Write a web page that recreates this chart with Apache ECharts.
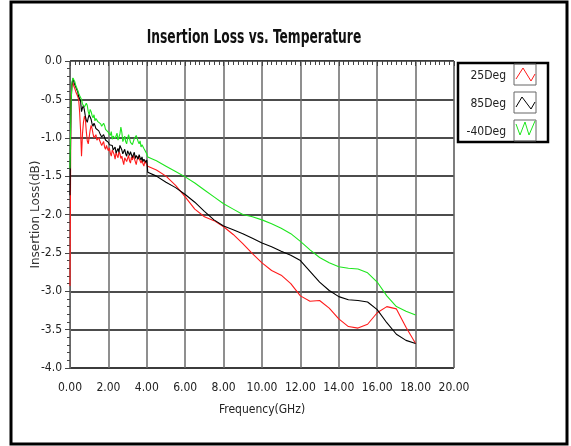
<!DOCTYPE html>
<html>
<head>
<meta charset="utf-8">
<script src="https://cdn.jsdelivr.net/npm/echarts@6/dist/echarts.min.js"></script>
<style>
html, body { margin: 0; padding: 0; background: #fff; }
#chart { width: 571px; height: 446px; }
</style>
</head>
<body>
<div id="chart"></div>
<script>
// frequency points (GHz): dense below 4 GHz where the traces are noisy
var freq = [0, 0.05, 0.1, 0.15, 0.2, 0.25, 0.3, 0.35, 0.4, 0.45, 0.5, 0.55, 0.6, 0.65, 0.7, 0.75, 0.8, 0.85, 0.9, 0.95,
    1.0, 1.05, 1.1, 1.15, 1.2, 1.25, 1.3, 1.35, 1.4, 1.45, 1.5, 1.55, 1.6, 1.65, 1.7, 1.75, 1.8, 1.85, 1.9, 1.95,
    2.0, 2.05, 2.1, 2.15, 2.2, 2.25, 2.3, 2.35, 2.4, 2.45, 2.5, 2.55, 2.6, 2.65, 2.7, 2.75, 2.8, 2.85, 2.9, 2.95,
    3.0, 3.05, 3.1, 3.15, 3.2, 3.25, 3.3, 3.35, 3.4, 3.45, 3.5, 3.55, 3.6, 3.65, 3.7, 3.75, 3.8, 3.85, 3.9, 3.95,
    4.0, 4.05,
    4.5, 5.0, 5.5, 6.0, 6.5, 7.0, 7.5, 8.0, 8.5, 9.0, 9.5, 10.0, 10.5, 11.0, 11.5, 12.0, 12.5, 13.0, 13.5,
    14.0, 14.5, 15.0, 15.5, 16.0, 16.5, 17.0, 17.5, 18.0];

// insertion loss (dB) per temperature
var loss25 = [-2.93, -0.50, -0.32, -0.28, -0.33, -0.36, -0.40, -0.43, -0.46, -0.50, -0.66, -0.90, -1.24, -0.95, -0.80, -0.72, -0.76, -0.92, -1.04, -1.08,
    -1.06, -0.90, -0.84, -0.88, -0.95, -1.00, -0.98, -0.96, -1.03, -1.05, -1.00, -1.04, -1.06, -1.10, -1.08, -1.05, -1.12, -1.15, -1.10, -1.14,
    -1.17, -1.13, -1.20, -1.24, -1.16, -1.19, -1.22, -1.28, -1.19, -1.23, -1.26, -1.18, -1.21, -1.27, -1.24, -1.30, -1.35, -1.26, -1.24, -1.31,
    -1.27, -1.23, -1.30, -1.33, -1.25, -1.29, -1.23, -1.27, -1.31, -1.35, -1.28, -1.24, -1.25, -1.30, -1.33, -1.29, -1.34, -1.37, -1.30, -1.33,
    -1.35, -1.37,
    -1.42, -1.50, -1.62, -1.77, -1.93, -2.03, -2.08, -2.16, -2.26, -2.38, -2.51, -2.63, -2.73, -2.79, -2.90, -3.06, -3.13, -3.12, -3.22,
    -3.36, -3.46, -3.48, -3.43, -3.28, -3.20, -3.23, -3.47, -3.68];

var loss85 = [-1.75, -0.60, -0.30, -0.23, -0.25, -0.31, -0.34, -0.36, -0.40, -0.46, -0.48, -0.52, -0.66, -0.61, -0.58, -0.64, -0.72, -0.77, -0.80, -0.74,
    -0.70, -0.73, -0.76, -0.82, -0.85, -0.81, -0.84, -0.88, -0.90, -0.87, -0.91, -0.94, -0.95, -0.99, -1.00, -0.96, -0.98, -1.03, -1.04, -1.02,
    -1.06, -1.09, -1.11, -1.07, -1.10, -1.16, -1.15, -1.12, -1.20, -1.17, -1.14, -1.19, -1.10, -1.13, -1.16, -1.21, -1.18, -1.15, -1.21, -1.24,
    -1.17, -1.20, -1.23, -1.18, -1.19, -1.26, -1.22, -1.19, -1.27, -1.23, -1.24, -1.28, -1.22, -1.26, -1.29, -1.25, -1.31, -1.28, -1.27, -1.32,
    -1.29, -1.45,
    -1.50, -1.58, -1.65, -1.74, -1.84, -1.96, -2.07, -2.15, -2.20, -2.25, -2.31, -2.37, -2.42, -2.48, -2.53, -2.60, -2.74, -2.88, -2.99,
    -3.07, -3.11, -3.12, -3.14, -3.24, -3.41, -3.56, -3.64, -3.68];

var lossM40 = [-1.40, -0.60, -0.28, -0.22, -0.24, -0.27, -0.32, -0.33, -0.38, -0.42, -0.45, -0.47, -0.50, -0.56, -0.54, -0.60, -0.62, -0.55, -0.58, -0.66,
    -0.70, -0.63, -0.66, -0.71, -0.74, -0.70, -0.78, -0.75, -0.74, -0.79, -0.80, -0.77, -0.82, -0.85, -0.86, -0.81, -0.84, -0.89, -0.90, -0.87,
    -0.93, -0.95, -0.97, -0.92, -1.02, -0.98, -0.96, -1.01, -1.00, -0.94, -1.03, -0.99, -0.95, -0.86, -0.93, -1.05, -1.02, -0.98, -1.05, -1.08,
    -1.01, -0.96, -0.97, -1.06, -1.04, -1.09, -1.07, -1.01, -1.00, -0.97, -0.98, -1.05, -1.08, -1.04, -1.12, -1.09, -1.10, -1.14, -1.16, -1.15,
    -1.21, -1.25,
    -1.30, -1.37, -1.44, -1.51, -1.59, -1.68, -1.77, -1.86, -1.93, -2.00, -2.03, -2.07, -2.12, -2.18, -2.25, -2.35, -2.46, -2.56, -2.63,
    -2.68, -2.70, -2.71, -2.76, -2.88, -3.06, -3.20, -3.26, -3.31];

var seriesNames = ['25Deg', '85Deg', '-40Deg'];
var seriesColors = ['#ff1a1a', '#000000', '#1ee61e'];
var seriesValues = [loss25, loss85, lossM40];

var narrow = "'Liberation Sans Narrow', 'DejaVu Sans Condensed', 'Noto Sans', sans-serif";

function pairs(values) {
    var out = [];
    for (var i = 0; i < freq.length; i++) {
        out.push([freq[i], values[i]]);
    }
    return out;
}

var series = [];
for (var s = 0; s < seriesNames.length; s++) {
    series.push({
        name: seriesNames[s],
        type: 'line',
        data: pairs(seriesValues[s]),
        showSymbol: false,
        symbol: 'none',
        lineStyle: { color: seriesColors[s], width: 1.1 },
        itemStyle: { color: seriesColors[s] },
        animation: false
    });
}

// legend swatch boxes (little zigzag drawn in each)
var swatchTop = [64, 92, 120];
var zigzags = [
    [[516, 79], [523, 68], [531, 81], [535, 74]],
    [[516, 107], [522, 97], [531, 109], [535, 102]],
    [[516, 124], [520, 135], [525, 122], [529, 135], [535, 121]]
];

var graphics = [
    { type: 'rect', shape: { x: 11, y: 2, width: 556, height: 442 },
      style: { fill: 'none', stroke: '#000', lineWidth: 3 }, silent: true },
    { type: 'rect', shape: { x: 458, y: 63, width: 90, height: 79 },
      style: { fill: 'none', stroke: '#000', lineWidth: 2.5 }, silent: true },
    { type: 'text', x: 254, y: 38, scaleX: 0.72, silent: true,
      style: { text: 'Insertion Loss vs. Temperature', fill: '#111', align: 'center', verticalAlign: 'middle',
               font: "bold 19px " + narrow } }
];
for (var k = 0; k < 3; k++) {
    graphics.push({ type: 'rect', shape: { x: 514, y: swatchTop[k], width: 22, height: 21 },
        style: { fill: 'none', stroke: '#666', lineWidth: 1 }, silent: true });
    graphics.push({ type: 'polyline', shape: { points: zigzags[k] },
        style: { fill: 'none', stroke: seriesColors[k], lineWidth: 1 }, silent: true });
}

var chart = echarts.init(document.getElementById('chart'));
chart.setOption({
    animation: false,
    backgroundColor: '#fff',
    legend: {
        data: seriesNames,
        orient: 'vertical',
        align: 'right',
        right: 38,
        top: 69,
        padding: 0,
        itemWidth: 16,
        itemHeight: 14,
        itemGap: 14,
        icon: 'rect',
        itemStyle: { color: 'rgba(0,0,0,0)', borderWidth: 0 },
        lineStyle: { width: 0, color: 'rgba(0,0,0,0)' },
        textStyle: { fontFamily: narrow, fontSize: 12, color: '#222', padding: [0, 6, 0, 0] },
        selectedMode: false
    },
    grid: {
        left: 70, top: 61, width: 384, height: 307,
        show: true, borderColor: '#777', borderWidth: 1
    },
    xAxis: {
        type: 'value',
        min: 0, max: 20, interval: 2,
        name: 'Frequency(GHz)',
        nameLocation: 'middle',
        nameGap: 36,
        nameTextStyle: { fontFamily: narrow, fontSize: 12, color: '#222' },
        axisLine: { lineStyle: { color: '#666' } },
        axisTick: { show: true, length: 5, lineStyle: { color: '#444' } },
        minorTick: { show: true, splitNumber: 8, length: 4, lineStyle: { color: '#444' } },
        axisLabel: { margin: 14, fontFamily: narrow, fontSize: 12, color: '#222',
            formatter: function (v) { return v.toFixed(2); } },
        splitLine: { show: true, lineStyle: { color: '#6a6a6a', width: 1.5 } }
    },
    yAxis: {
        type: 'value',
        min: -4, max: 0, interval: 0.5,
        name: 'Insertion Loss(dB)',
        nameLocation: 'middle',
        nameGap: 28,
        nameMoveOverlap: false,
        nameTextStyle: { fontFamily: "'DejaVu Sans', sans-serif", fontSize: 12, color: '#333' },
        axisLine: { show: true, lineStyle: { color: '#666' } },
        axisTick: { show: true, length: 5, lineStyle: { color: '#444' } },
        minorTick: { show: true, splitNumber: 5, length: 3, lineStyle: { color: '#444' } },
        axisLabel: { margin: 8, fontFamily: narrow, fontSize: 12, color: '#222',
            formatter: function (v) { return v.toFixed(1); } },
        splitLine: { show: true, lineStyle: { color: '#111', width: 1.5 } }
    },
    graphic: graphics,
    series: series
});
</script>
</body>
</html>
